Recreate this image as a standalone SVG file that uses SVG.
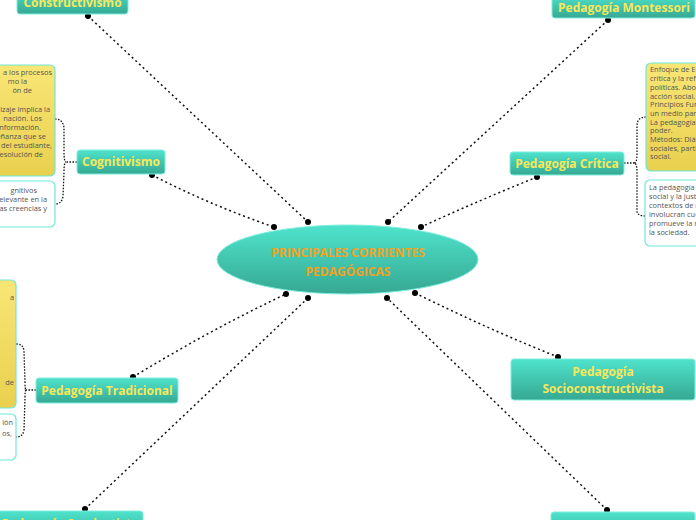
<svg xmlns="http://www.w3.org/2000/svg" width="696" height="520" viewBox="0 0 696 520">
<defs>
<linearGradient id="tg" x1="0" y1="0" x2="0" y2="1">
<stop offset="0" stop-color="#4fe3cc"/>
<stop offset="1" stop-color="#36a892"/>
</linearGradient>
<linearGradient id="yg" x1="0" y1="0" x2="0" y2="1">
<stop offset="0" stop-color="#f8e676"/>
<stop offset="1" stop-color="#e9d04e"/>
</linearGradient>
</defs>
<style>
.node{fill:url(#tg);stroke:#7eeedd;stroke-width:1}
.lbl{font-family:"Open Sans","Noto Sans",sans-serif;font-weight:bold;font-size:12px;fill:#f7e75a;text-anchor:middle}
.ctr{font-family:"Open Sans","Noto Sans",sans-serif;font-weight:bold;font-size:12px;fill:#f0a21e;text-anchor:middle}
.yb{fill:url(#yg);stroke:#6ee8da;stroke-width:1.2}
.wb{fill:#fff;stroke:#6ee8da;stroke-width:1.2}
.note{font-family:"Open Sans","Noto Sans",sans-serif;font-size:7.4px;fill:#555}
.ln{fill:none;stroke:#111;stroke-width:1.5;stroke-dasharray:2 3}
.br{fill:none;stroke:#111;stroke-width:1.3;stroke-dasharray:1.5 1.5}
.dot{fill:#000}
</style>
<g id="connectors">
<path class="ln" d="M88,16 L308,222"/>
<path class="ln" d="M608,20 L388,222"/>
<path class="ln" d="M152,175 Q210,205 274,227"/>
<path class="ln" d="M537,177 Q480,200 421,227"/>
<path class="ln" d="M133,377 Q210,330 286,294"/>
<path class="ln" d="M415,293 Q490,330 558,357"/>
<path class="ln" d="M85,509 L308,298"/>
<path class="ln" d="M607,510 L387,298"/>
<circle class="dot" cx="88" cy="16" r="3"/>
<circle class="dot" cx="308" cy="222" r="3"/>
<circle class="dot" cx="608" cy="20" r="3"/>
<circle class="dot" cx="388" cy="222" r="3"/>
<circle class="dot" cx="152" cy="175" r="3"/>
<circle class="dot" cx="274" cy="227" r="3"/>
<circle class="dot" cx="537" cy="177" r="3"/>
<circle class="dot" cx="421" cy="227" r="3"/>
<circle class="dot" cx="133" cy="377" r="3"/>
<circle class="dot" cx="286" cy="294" r="3"/>
<circle class="dot" cx="415" cy="293" r="3"/>
<circle class="dot" cx="558" cy="357" r="3"/>
<circle class="dot" cx="85" cy="509" r="3"/>
<circle class="dot" cx="308" cy="298" r="3"/>
<circle class="dot" cx="607" cy="510" r="3"/>
<circle class="dot" cx="387" cy="298" r="3"/>
<path class="br" d="M77,162 H66 M55,119 Q63,119 64,128 L64,152 Q64,162 66,162 Q64,162 64,172 L63,196 Q62,204 55,204"/>
<path class="br" d="M624,163 H634 M646,117 Q637,117 637,126 L637,154 Q637,163 634,163 Q637,163 637,172 L637,211 Q637,216 646,216"/>
<path class="br" d="M36,390 H26 M16,344 Q24,344 24,352 L25,382 Q25,390 26,390 Q25,390 25,398 L24,430 Q23,437 16,437"/>
</g>
<g id="center">
<ellipse cx="347.5" cy="259.5" rx="130.5" ry="34.5" fill="url(#tg)" stroke="#7eeedd"/>
<text class="ctr" x="348" y="256.5">PRINCIPALES CORRIENTES</text>
<text class="ctr" x="348" y="275.5">PEDAGÓGICAS</text>
</g>
<g id="constructivismo">
<rect class="node" x="17" y="-12" width="111" height="26" rx="3"/>
<text class="lbl" x="72.5" y="7">Constructivismo</text>
</g>
<g id="montessori">
<rect class="node" x="552" y="-6" width="143" height="24" rx="3"/>
<text class="lbl" x="624" y="12">Pedagogía Montessori</text>
</g>
<g id="cognitivismo">
<rect class="node" x="77" y="150" width="88" height="24" rx="3"/>
<text class="lbl" x="121" y="166">Cognitivismo</text>
</g>
<g id="cognitivismo-nota1">
<rect class="yb" x="-10" y="65" width="65" height="111" rx="5"/>
<g class="note" text-anchor="end">
<text x="52" y="75">a los procesos</text>
<text x="27" y="84">mo la</text>
<text x="32" y="93">ón de</text>
<text x="50" y="112">izaje implica la</text>
<text x="42" y="121">nación. Los</text>
<text x="41" y="130">información.</text>
<text x="46" y="139">eñanza que se</text>
<text x="52" y="148">del estudiante,</text>
<text x="43" y="157">resolución de</text>
</g>
</g>
<g id="cognitivismo-nota2">
<rect class="wb" x="-10" y="181" width="65" height="46" rx="5"/>
<g class="note" text-anchor="end">
<text x="37" y="193">gnitivos</text>
<text x="47" y="202">elevante en la</text>
<text x="47" y="211">las creencias y</text>
</g>
</g>
<g id="critica">
<rect class="node" x="510" y="152" width="114" height="23" rx="3"/>
<text class="lbl" x="567" y="168">Pedagogía Crítica</text>
</g>
<g id="critica-nota1">
<rect class="yb" x="646" y="63" width="70" height="108" rx="5"/>
<g class="note">
<text x="650" y="72">Enfoque de En</text>
<text x="650" y="81">crítica y la ref</text>
<text x="650" y="90">políticas. Abor</text>
<text x="650" y="98.5">acción social.</text>
<text x="650" y="107">Principios Fun</text>
<text x="650" y="116">un medio para</text>
<text x="650" y="124.5">La pedagogía</text>
<text x="650" y="133">poder.</text>
<text x="650" y="142">Métodos: Diál</text>
<text x="650" y="150.5">sociales, parti</text>
<text x="650" y="159">social.</text>
</g>
</g>
<g id="critica-nota2">
<rect class="wb" x="645" y="180" width="70" height="66" rx="5"/>
<g class="note">
<text x="649" y="190">La pedagogía</text>
<text x="649" y="199">social y la just</text>
<text x="649" y="208">contextos de r</text>
<text x="649" y="217">involucran cue</text>
<text x="649" y="226">promueve la r</text>
<text x="649" y="235">la sociedad.</text>
</g>
</g>
<g id="tradicional">
<rect class="node" x="36" y="378" width="142" height="25" rx="3"/>
<text class="lbl" x="107" y="395">Pedagogía Tradicional</text>
</g>
<g id="tradicional-nota1">
<rect class="yb" x="-10" y="280" width="26" height="128" rx="5"/>
<g class="note" text-anchor="end">
<text x="14" y="300">a</text>
<text x="14" y="385">de</text>
</g>
</g>
<g id="tradicional-nota2">
<rect class="wb" x="-10" y="414" width="26" height="46" rx="5"/>
<g class="note" text-anchor="end">
<text x="13" y="425">ión</text>
<text x="12" y="436">os,</text>
</g>
</g>
<g id="socioconstructivista">
<rect class="node" x="511" y="359" width="184" height="41" rx="3"/>
<text class="lbl" x="603" y="376">Pedagogía</text>
<text class="lbl" x="603" y="393">Socioconstructivista</text>
</g>
<g id="nodo-inferior-izquierdo">
<rect class="node" x="-5" y="511" width="148" height="30" rx="3"/>
<text class="lbl" x="70" y="528">Pedagogía Conductista</text>
</g>
<g id="nodo-inferior-derecho">
<rect class="node" x="551" y="512" width="144" height="30" rx="3"/>
<text class="lbl" x="623" y="530">Escuela Nueva</text>
</g>
</svg>
